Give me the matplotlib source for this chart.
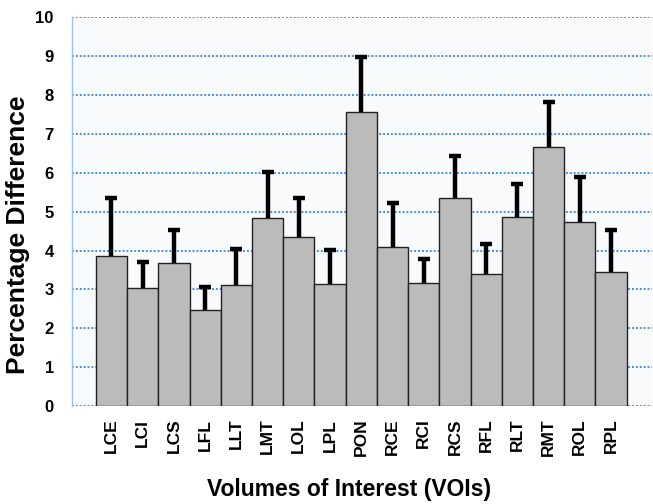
import matplotlib.pyplot as plt
import numpy as np

plt.rcParams['font.family'] = ['Liberation Sans', 'DejaVu Sans']

vois = ['LCE', 'LCI', 'LCS', 'LFL', 'LLT', 'LMT', 'LOL', 'LPL', 'PON',
        'RCE', 'RCI', 'RCS', 'RFL', 'RLT', 'RMT', 'ROL', 'RPL']
pct_diff = [3.86, 3.03, 3.67, 2.48, 3.11, 4.84, 4.35, 3.14, 7.55,
            4.09, 3.17, 5.35, 3.41, 4.87, 6.67, 4.73, 3.45]
err_upper = [1.49, 0.68, 0.87, 0.59, 0.93, 1.18, 0.99, 0.88, 1.43,
             1.14, 0.61, 1.08, 0.75, 0.85, 1.15, 1.16, 1.09]

fig = plt.figure(figsize=(6.53, 5.04), dpi=100)
ax = fig.add_axes([0.110, 0.194, 0.888, 0.772])
ax.set_facecolor('#f9fafc')

x = np.arange(len(vois))
ax.bar(x, pct_diff, width=1.0, color='#bbbbbb', edgecolor='#222222',
       linewidth=1.0, zorder=3)
eb = ax.errorbar(x, pct_diff, yerr=[np.zeros(len(x)), err_upper], fmt='none',
                 ecolor='black', elinewidth=3.2, capsize=4, capthick=3.2, zorder=2)
# upper error only: hide the caps sitting on the bar tops
eb[1][0].set_visible(False)

ax.set_ylim(0, 10)
ax.set_xlim(-1.27, 17.3)
ax.set_yticks(range(0, 11))
ax.yaxis.grid(True, color='#4a90d9', linestyle=(0, (1, 1)), linewidth=1.4, zorder=1)
ax.set_axisbelow(True)

for s in ['top', 'right', 'bottom']:
    ax.spines[s].set_visible(False)
ax.spines['left'].set_color('#9cc3e8')
ax.spines['left'].set_linewidth(1.0)

ax.tick_params(axis='both', length=0)
ax.tick_params(axis='y', pad=13, labelsize=12)
ax.tick_params(axis='x', pad=9, labelsize=12.5)
ax.set_xticks(x)
ax.set_xticklabels(vois, rotation=90, fontweight='bold')
for lbl in ax.get_yticklabels():
    lbl.set_fontweight('bold')

ax.set_ylabel('Percentage Difference', fontsize=19, fontweight='bold')
ax.yaxis.set_label_coords(-0.072, 0.44)
ax.set_xlabel('Volumes of Interest (VOIs)', fontsize=16.5, fontweight='bold', labelpad=18)
ax.xaxis.set_label_coords(0.478, -0.185)
ax.xaxis.label.set_va('top')

fig.savefig('out.png', dpi=100, facecolor='white')
